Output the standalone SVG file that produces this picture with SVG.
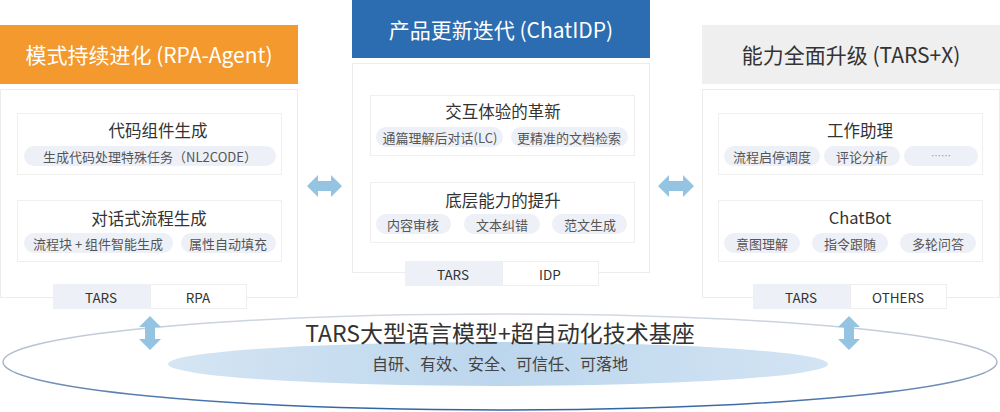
<svg xmlns="http://www.w3.org/2000/svg" width="1000" height="412" viewBox="0 0 1000 412">
<style>
text{font-family:"Noto Sans CJK SC","Noto Sans",sans-serif;text-anchor:middle;dominant-baseline:central}
.hd{font-size:21px;font-weight:400}
.body{fill:#fff;stroke:#ececec;stroke-width:1}
.card{fill:#fff;stroke:#efefef;stroke-width:1}
.ct{font-size:16.5px;fill:#333}
.pill{fill:#eef0f7}
.pt{font-size:13px;fill:#555}
.tabL{fill:#eef0f8}
.tabR{fill:#fff;stroke:#eeeeee}
.tt{font-size:13.5px;fill:#333}
.arr{fill:#95c3e2}
</style>
<defs>
<linearGradient id="ring" x1="0" y1="0" x2="0" y2="1">
<stop offset="0" stop-color="#d3d9e3"/>
<stop offset="0.5" stop-color="#a9b6c9"/>
<stop offset="1" stop-color="#2f63a4"/>
</linearGradient>
<linearGradient id="core" x1="0" y1="0" x2="1" y2="0">
<stop offset="0" stop-color="#d5e5f3"/>
<stop offset="0.5" stop-color="#bcd6ed"/>
<stop offset="1" stop-color="#d3e4f3"/>
</linearGradient>
</defs>
<rect width="1000" height="412" fill="#fff"/>

<g id="base">
<ellipse cx="500" cy="362" rx="497" ry="48" fill="none" stroke="url(#ring)" stroke-width="1.5"/>
<ellipse cx="498" cy="364" rx="330" ry="22" fill="url(#core)"/>
<text x="500" y="332" style="font-size:23px;fill:#333">TARS大型语言模型+超自动化技术基座</text>
<text x="500" y="363" style="font-size:16px;fill:#444">自研、有效、安全、可信任、可落地</text>
</g>

<g id="left">
<rect x="0" y="25" width="298" height="59" fill="#f3992e"/>
<text class="hd" x="149" y="54" fill="#fff">模式持续进化 (RPA-Agent)</text>
<rect class="body" x="0.5" y="89.5" width="297" height="208"/>
<rect class="card" x="17.5" y="113.5" width="264" height="61"/>
<text class="ct" x="158" y="130">代码组件生成</text>
<rect class="pill" x="24" y="146" width="252" height="20" rx="10"/>
<text class="pt" x="150" y="156">生成代码处理特殊任务（NL2CODE）</text>
<rect class="card" x="17.5" y="200.5" width="264" height="61"/>
<text class="ct" x="149" y="218">对话式流程生成</text>
<rect class="pill" x="24" y="233" width="149" height="20" rx="10"/>
<text class="pt" x="98" y="243">流程块 + 组件智能生成</text>
<rect class="pill" x="181" y="233" width="95" height="20" rx="10"/>
<text class="pt" x="228" y="243">属性自动填充</text>
<rect class="tabL" x="53" y="284" width="97" height="25"/>
<rect class="tabR" x="150.5" y="284.5" width="96" height="24"/>
<text class="tt" x="101" y="297">TARS</text>
<text class="tt" x="198" y="297">RPA</text>
</g>

<g id="middle">
<rect x="352" y="0" width="298" height="58" fill="#2c6cb0"/>
<text class="hd" x="501" y="29" fill="#fff">产品更新迭代 (ChatIDP)</text>
<rect class="body" x="352.5" y="63.5" width="297" height="209"/>
<rect class="card" x="370.5" y="95.5" width="264" height="60"/>
<text class="ct" x="503" y="111">交互体验的革新</text>
<rect class="pill" x="376" y="127" width="127" height="20" rx="10"/>
<text class="pt" x="440" y="137">通篇理解后对话(LC)</text>
<rect class="pill" x="511" y="127" width="117" height="20" rx="10"/>
<text class="pt" x="569" y="137">更精准的文档检索</text>
<rect class="card" x="370.5" y="182.5" width="264" height="60"/>
<text class="ct" x="503" y="200">底层能力的提升</text>
<rect class="pill" x="376" y="214" width="75" height="20" rx="10"/>
<text class="pt" x="413" y="224">内容审核</text>
<rect class="pill" x="464" y="214" width="76" height="20" rx="10"/>
<text class="pt" x="502" y="224">文本纠错</text>
<rect class="pill" x="552" y="214" width="75" height="20" rx="10"/>
<text class="pt" x="590" y="224">范文生成</text>
<rect class="tabL" x="405" y="261" width="97" height="25"/>
<rect class="tabR" x="502.5" y="261.5" width="96" height="24"/>
<text class="tt" x="453" y="274">TARS</text>
<text class="tt" x="550" y="274">IDP</text>
</g>

<g id="right">
<rect x="702" y="25" width="298" height="59" fill="#efefef"/>
<text class="hd" x="851" y="54" fill="#333">能力全面升级 (TARS+X)</text>
<rect class="body" x="702.5" y="89.5" width="297" height="208"/>
<rect class="card" x="718.5" y="113.5" width="264" height="61"/>
<text class="ct" x="860" y="130">工作助理</text>
<rect class="pill" x="724" y="146" width="96" height="20" rx="10"/>
<text class="pt" x="772" y="156">流程启停调度</text>
<rect class="pill" x="824" y="146" width="76" height="20" rx="10"/>
<text class="pt" x="862" y="156">评论分析</text>
<rect class="pill" x="904" y="146" width="74" height="20" rx="10"/>
<text class="pt" x="941" y="155" style="font-size:10px;fill:#999">……</text>
<rect class="card" x="718.5" y="200.5" width="264" height="61"/>
<text class="ct" x="860" y="217">ChatBot</text>
<rect class="pill" x="724" y="233" width="76" height="20" rx="10"/>
<text class="pt" x="762" y="243">意图理解</text>
<rect class="pill" x="812" y="233" width="76" height="20" rx="10"/>
<text class="pt" x="850" y="243">指令跟随</text>
<rect class="pill" x="900" y="233" width="76" height="20" rx="10"/>
<text class="pt" x="938" y="243">多轮问答</text>
<rect class="tabL" x="753" y="284" width="97" height="25"/>
<rect class="tabR" x="850.5" y="284.5" width="96" height="24"/>
<text class="tt" x="801" y="297">TARS</text>
<text class="tt" x="898" y="297">OTHERS</text>
</g>

<g id="connectors">
<path class="arr" d="M307,186 L318,175 L318,181 L331,181 L331,175 L342,186 L331,197 L331,191 L318,191 L318,197 Z"/>
<path class="arr" d="M658,186 L669,175 L669,181 L683,181 L683,175 L694,186 L683,197 L683,191 L669,191 L669,197 Z"/>
<path class="arr" d="M150,316 L161,327 L155,327 L155,339 L161,339 L150,350 L139,339 L145,339 L145,327 L139,327 Z"/>
<path class="arr" d="M849,316 L860,327 L854,327 L854,339 L860,339 L849,350 L838,339 L844,339 L844,327 L838,327 Z"/>
</g>
</svg>
